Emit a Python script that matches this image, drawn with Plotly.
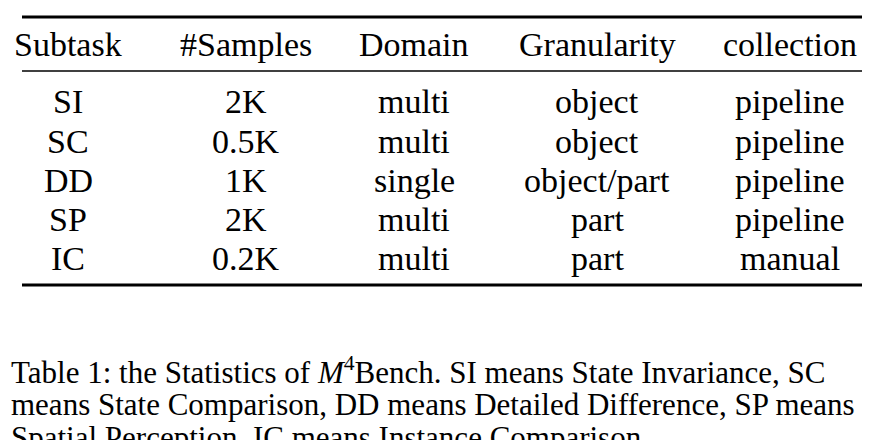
import plotly.graph_objects as go

headers = ["Subtask", "#Samples", "Domain", "Granularity", "collection"]
subtask = ["SI", "SC", "DD", "SP", "IC"]
samples = ["2K", "0.5K", "1K", "2K", "0.2K"]
domain = ["multi", "multi", "single", "multi", "multi"]
granularity = ["object", "object", "object/part", "part", "part"]
collection = ["pipeline", "pipeline", "pipeline", "pipeline", "manual"]
caption = [
    "Table 1: the Statistics of <i>M</i><sup>4</sup>Bench. SI means State Invariance, SC",
    "means State Comparison, DD means Detailed Difference, SP means",
    "Spatial Perception, IC means Instance Comparison.",
]

# page has an 8px body margin, so positions are shifted by -8
OFF = 8
col_x = [c - OFF for c in [68, 246, 414, 597, 790]]
header_y = 44 - OFF
row_y = [r - OFF for r in [101, 141, 180, 219, 258]]
cap_y = [c - OFF for c in [370, 404, 437]]
FONT = "Liberation Serif, Times New Roman, serif"

fig = go.Figure()
fig.add_trace(go.Scatter(x=[0, 882], y=[0, 440], mode="markers",
                         marker=dict(opacity=0), hoverinfo="skip", showlegend=False))

ann = []
for x, h in zip(col_x, headers):
    ann.append(dict(x=x, y=header_y, text=h, showarrow=False, xanchor="center",
                    yanchor="middle", font=dict(family=FONT, size=34, color="black")))
columns = [subtask, samples, domain, granularity, collection]
for x, col in zip(col_x, columns):
    for y, v in zip(row_y, col):
        ann.append(dict(x=x, y=y, text=v, showarrow=False, xanchor="center",
                        yanchor="middle", font=dict(family=FONT, size=34, color="black")))
for y, t in zip(cap_y, caption):
    ann.append(dict(x=9 - OFF, y=y, text=t, showarrow=False, xanchor="left",
                    yanchor="middle", font=dict(family=FONT, size=31, color="black")))

shapes = [
    dict(type="line", x0=22 - OFF, x1=862 - OFF, y0=17 - OFF, y1=17 - OFF, line=dict(color="black", width=3)),
    dict(type="line", x0=22 - OFF, x1=862 - OFF, y0=71 - OFF, y1=71 - OFF, line=dict(color="black", width=1.5)),
    dict(type="line", x0=22 - OFF, x1=862 - OFF, y0=285 - OFF, y1=285 - OFF, line=dict(color="black", width=3)),
]

fig.update_layout(
    width=882, height=440, margin=dict(l=0, r=0, t=0, b=0, autoexpand=False),
    paper_bgcolor="white", plot_bgcolor="white",
    xaxis=dict(range=[0, 882], visible=False, fixedrange=True),
    yaxis=dict(range=[440, 0], visible=False, fixedrange=True),
    annotations=ann, shapes=shapes, showlegend=False,
)
fig.write_html("out.html")
